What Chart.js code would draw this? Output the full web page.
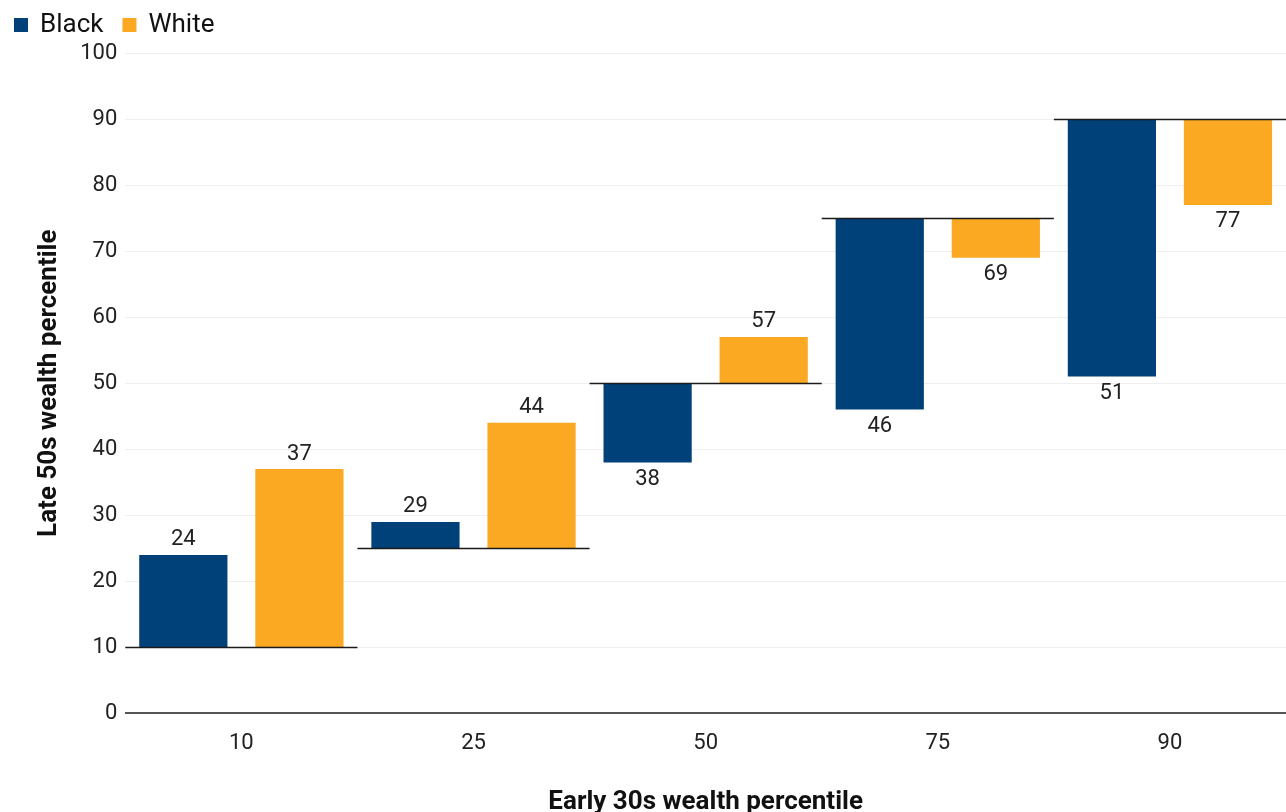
<!DOCTYPE html>
<html>
<head>
<meta charset="utf-8">
<script src="https://cdn.jsdelivr.net/npm/chart.js@4.4.1/dist/chart.umd.min.js"></script>
<style>
    html, body { margin: 0; padding: 0; background: #ffffff; }
    #wrap { width: 1286px; height: 812px; }
</style>
</head>
<body>
<div id="wrap"><canvas id="wealthChart"></canvas></div>
<script>
// Percentile de départ (début trentaine) et percentile atteint (fin cinquantaine)
const categories = ['10', '25', '50', '75', '90'];
const startValues = [10, 25, 50, 75, 90];
const blackValues = [24, 29, 38, 46, 51];
const whiteValues = [37, 44, 57, 69, 77];
const yTicks = [0, 10, 20, 30, 40, 50, 60, 70, 80, 90, 100];

const NAVY = '#00417a';
const ORANGE = '#fba823';
const FONT = 'Roboto, "Noto Sans", sans-serif';

Chart.defaults.font.family = FONT;
Chart.defaults.color = '#222222';

/**
 * Légende dessinée en haut à gauche
 */
const topLegend = {
    id: 'topLegend',
    afterDraw(chart) {
        const ctx = chart.ctx;
        ctx.save();
        ctx.font = '26px ' + FONT;
        ctx.textBaseline = 'alphabetic';
        let x = 14;
        chart.data.datasets.forEach(function(ds) {
            ctx.fillStyle = ds.backgroundColor;
            ctx.fillRect(x, 18, 14, 14);
            ctx.fillStyle = '#111111';
            ctx.fillText(ds.label, x + 26, 32);
            x += 26 + ctx.measureText(ds.label).width + 19;
        });
        ctx.restore();
    }
};

/**
 * Ligne horizontale de départ sur toute la largeur de chaque catégorie
 */
const startLines = {
    id: 'startLines',
    afterDatasetsDraw(chart) {
        const ctx = chart.ctx;
        const x = chart.scales.x;
        const y = chart.scales.y;
        const half = (chart.chartArea.right - chart.chartArea.left) / categories.length / 2;

        ctx.save();
        ctx.strokeStyle = '#1a1a1a';
        ctx.lineWidth = 1.5;
        startValues.forEach(function(v, i) {
            const cx = x.getPixelForValue(i);
            const py = Math.round(y.getPixelForValue(v)) + 0.5;
            ctx.beginPath();
            ctx.moveTo(cx - half, py);
            ctx.lineTo(cx + half, py);
            ctx.stroke();
        });
        ctx.restore();
    }
};

/**
 * Étiquettes de valeur au bout de chaque barre
 */
const endLabels = {
    id: 'endLabels',
    afterDatasetsDraw(chart) {
        const ctx = chart.ctx;
        ctx.save();
        ctx.font = '22px ' + FONT;
        ctx.fillStyle = '#222222';
        ctx.textAlign = 'center';

        chart.data.datasets.forEach(function(ds, di) {
            const meta = chart.getDatasetMeta(di);
            meta.data.forEach(function(bar, i) {
                const start = ds.data[i][0];
                const end = ds.data[i][1];
                const py = chart.scales.y.getPixelForValue(end);
                if (end >= start) {
                    ctx.textBaseline = 'bottom';
                    ctx.fillText(String(end), bar.x, py - 4);
                } else {
                    ctx.textBaseline = 'top';
                    ctx.fillText(String(end), bar.x, py + 6);
                }
            });
        });
        ctx.restore();
    }
};

new Chart(document.getElementById('wealthChart'), {
    type: 'bar',
    data: {
        labels: categories,
        datasets: [
            {
                label: 'Black',
                data: startValues.map((s, i) => [s, blackValues[i]]),
                backgroundColor: NAVY,
                borderSkipped: false,
                barPercentage: 0.76,
                categoryPercentage: 1.0
            },
            {
                label: 'White',
                data: startValues.map((s, i) => [s, whiteValues[i]]),
                backgroundColor: ORANGE,
                borderSkipped: false,
                barPercentage: 0.76,
                categoryPercentage: 1.0
            }
        ]
    },
    options: {
        responsive: true,
        maintainAspectRatio: false,
        animation: false,
        layout: {
            padding: { left: 34, right: 0, top: 53, bottom: 0 }
        },
        plugins: {
            legend: { display: false },
            tooltip: { enabled: false }
        },
        scales: {
            x: {
                grid: { display: false, drawTicks: false },
                border: { display: false },
                ticks: {
                    padding: 17,
                    font: { size: 22 },
                    color: '#222222'
                },
                title: {
                    display: true,
                    text: 'Early 30s wealth percentile',
                    font: { size: 26, weight: 'bold', lineHeight: 0.7 },
                    color: '#111111',
                    padding: { top: 20, bottom: 0 }
                }
            },
            y: {
                min: 0,
                max: 100,
                afterBuildTicks: function(axis) {
                    axis.ticks = yTicks.map(v => ({ value: v }));
                },
                grid: {
                    drawTicks: false,
                    color: ctx => ctx.tick && ctx.tick.value === 0 ? '#555555' : '#efefef',
                    lineWidth: ctx => ctx.tick && ctx.tick.value === 0 ? 2 : 1
                },
                border: { display: false },
                ticks: {
                    padding: 8,
                    font: { size: 22 },
                    color: '#222222'
                },
                title: {
                    display: true,
                    text: 'Late 50s wealth percentile',
                    font: { size: 26, weight: 'bold', lineHeight: 1.2 },
                    color: '#111111',
                    padding: { top: 0, bottom: 7 }
                }
            }
        }
    },
    plugins: [startLines, endLabels, topLegend]
});
</script>
</body>
</html>
